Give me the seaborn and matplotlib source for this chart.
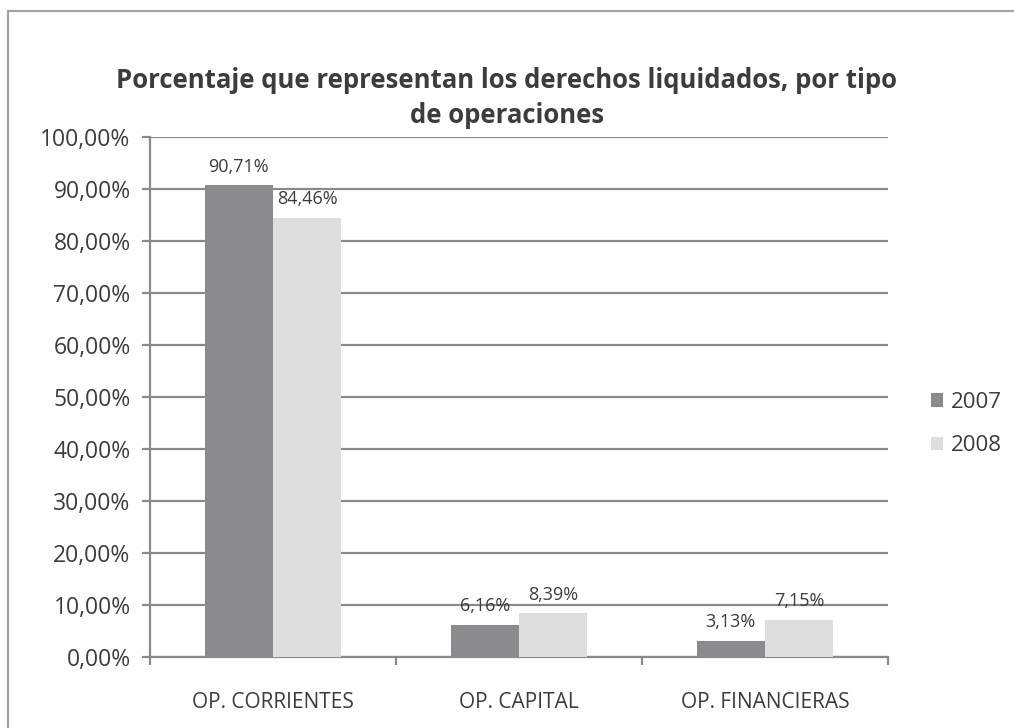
import matplotlib
matplotlib.use("Agg")
import matplotlib.pyplot as plt
from matplotlib.patches import Patch, Rectangle
import numpy as np
import pandas as pd
import seaborn as sns

# Data
categorias = ["OP. CORRIENTES", "OP. CAPITAL", "OP. FINANCIERAS"]
anios = ["2007", "2008"]
valores_2007 = [90.71, 6.16, 3.13]
valores_2008 = [84.46, 8.39, 7.15]
ticks_y = [0, 10, 20, 30, 40, 50, 60, 70, 80, 90, 100]

titulo = "Porcentaje que representan los derechos liquidados, por tipo\nde operaciones"

df = pd.DataFrame({
    "categoria": categorias * 2,
    "anio": [anios[0]] * 3 + [anios[1]] * 3,
    "valor": valores_2007 + valores_2008,
})

sns.set_theme(style="white")
plt.rcParams["font.family"] = ["Open Sans", "DejaVu Sans"]

TXT = "#3c3c3c"
GRID = "#8a8a8a"
colores = {"2007": "#8b8b8d", "2008": "#dededf"}

fig = plt.figure(figsize=(10.14, 7.28), dpi=100)
ax = fig.add_axes([150 / 1014, 1 - 657 / 728, 738 / 1014, 520 / 728])

sns.barplot(data=df, x="categoria", y="valor", hue="anio", order=categorias,
            hue_order=anios, palette=colores, width=0.555, gap=0,
            saturation=1, linewidth=0, legend=False, ax=ax, zorder=3)

ax.set_xlim(-0.5, 2.5)
ax.set_ylim(0, 100)
ax.set_yticks(ticks_y)
ax.set_yticklabels([f"{t:.2f}".replace(".", ",") + "%" for t in ticks_y])
ax.set_xlabel("")
ax.set_ylabel("")

# horizontal gridlines behind the bars
ax.yaxis.grid(True, color=GRID, linewidth=1.6, zorder=0)
ax.xaxis.grid(False)
ax.set_axisbelow(True)

for s in ["top", "right"]:
    ax.spines[s].set_visible(False)
for s in ["left", "bottom"]:
    ax.spines[s].set_color(GRID)
    ax.spines[s].set_linewidth(1.6)

ax.tick_params(axis="y", length=6, width=1.6, color=GRID, labelsize=16.5,
               labelcolor=TXT, pad=8, direction="out", left=True)
ax.tick_params(axis="x", which="major", length=0, labelsize=15, labelcolor=TXT, pad=25)
ax.set_xticks([-0.5, 0.5, 1.5, 2.5], minor=True)
ax.tick_params(axis="x", which="minor", length=6, width=1.6, color=GRID,
               direction="out", bottom=True)

# value labels above each bar
for cont in ax.containers:
    labels = [f"{v:.2f}".replace(".", ",") + "%" for v in cont.datavalues]
    ax.bar_label(cont, labels=labels, padding=7, fontsize=13, color=TXT)

fig.text(0.5, 1 - 98 / 728, titulo, ha="center", va="center", fontsize=18.5,
         fontweight="bold", color=TXT, linespacing=1.38)

handles = [Patch(facecolor=colores[a], edgecolor="none", label=a) for a in anios]
fig.legend(handles=handles, loc="center left", bbox_to_anchor=(931 / 1014, 1 - 424 / 728),
           frameon=False, fontsize=16, handlelength=0.55, handleheight=0.55,
           handletextpad=0.35, labelspacing=1.0, borderpad=0, borderaxespad=0,
           labelcolor=TXT)

# outer chart frame
fig.patches.append(Rectangle((8 / 1014, -0.05), 1.2, 1 - 11 / 728 + 0.05,
                             transform=fig.transFigure, fill=False,
                             edgecolor="#a3a3a3", linewidth=1.6))

fig.savefig("out.png", dpi=100)
